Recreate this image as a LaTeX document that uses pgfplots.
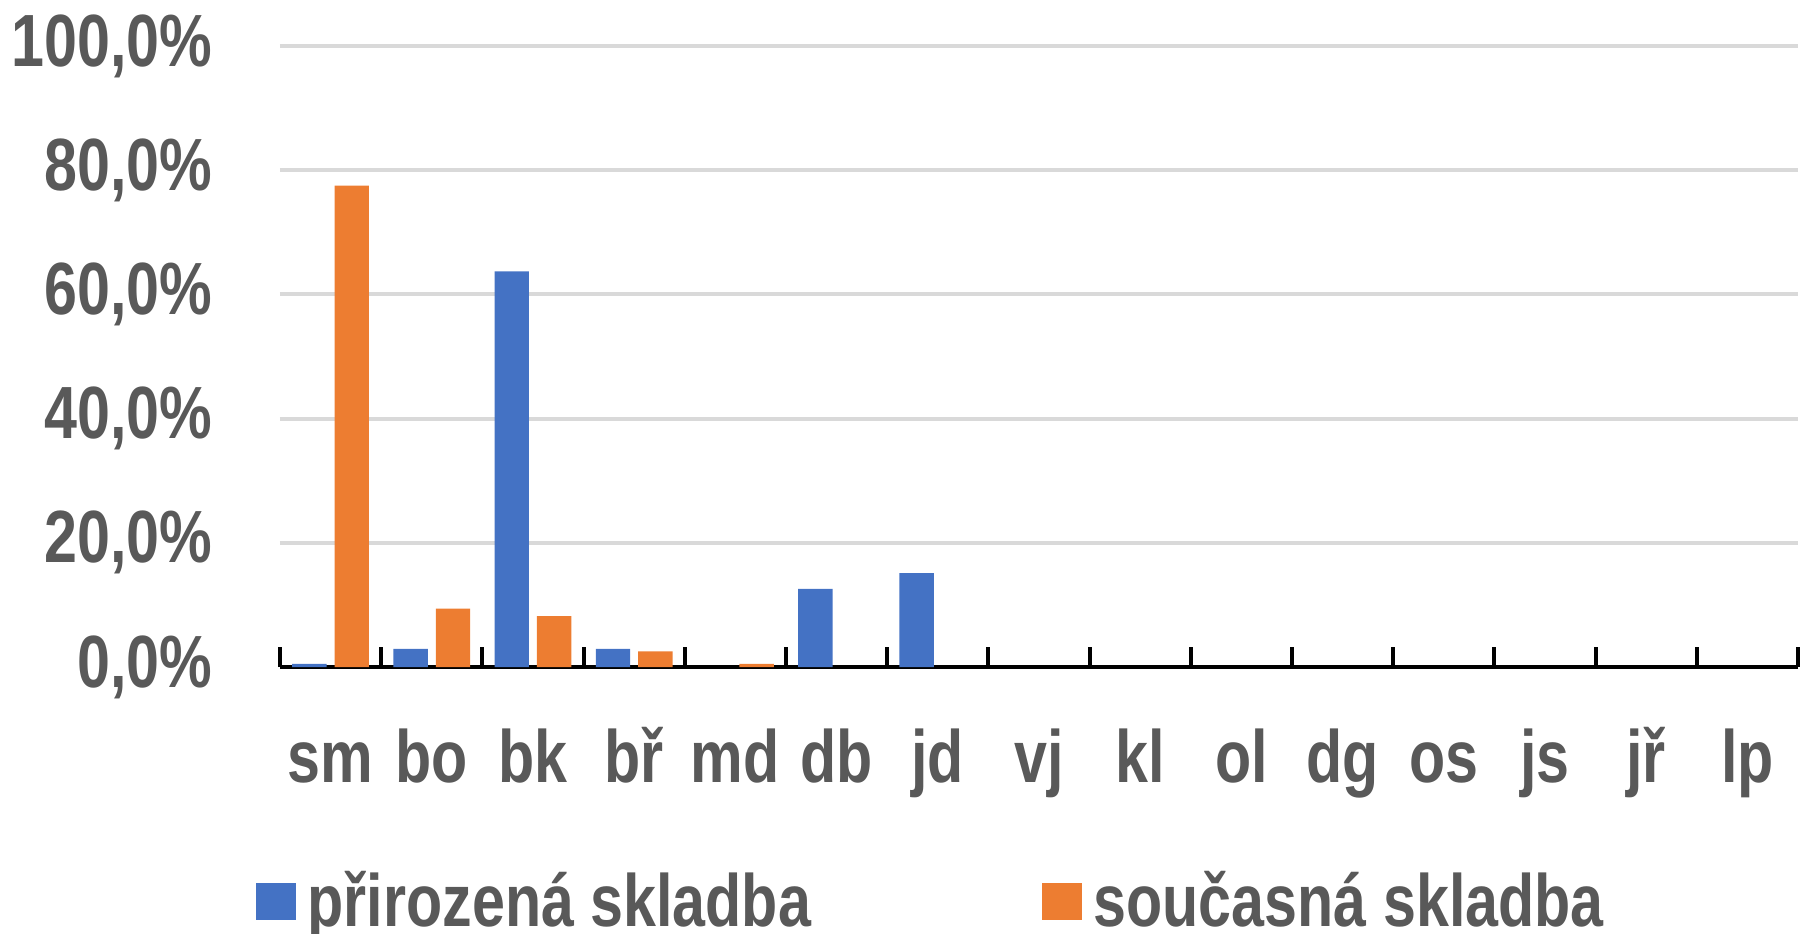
\documentclass[border=0pt]{standalone}
\usepackage{fontspec}
\setmainfont{Liberation Sans}[FakeStretch=0.8]
\usepackage{pgfplots}
\pgfplotsset{compat=1.18}
\definecolor{cblue}{HTML}{4472C4}
\definecolor{corange}{HTML}{ED7D31}
\definecolor{cgrid}{HTML}{D9D9D9}
\definecolor{ctext}{HTML}{595959}
\newcommand{\cf}{\bfseries\fontsize{18.5}{22}\selectfont}
\begin{document}
\begin{tikzpicture}
\begin{axis}[
  at={(0,0)}, anchor=south west,
  scale only axis, width=379.5pt, height=155.25pt,
  xmin=-0.5, xmax=14.5, ymin=0, ymax=100,
  ybar=2pt, bar width=8.6pt,
  axis lines*=left,
  y axis line style={draw=none},
  x axis line style={black, line width=1pt},
  ytick={0,20,40,60,80,100},
  yticklabels={{0,0\%},{20,0\%},{40,0\%},{60,0\%},{80,0\%},{100,0\%}},
  ytick style={draw=none},
  ymajorgrids, grid style={cgrid, line width=1pt},
  xtick={0,...,14},
  xticklabels={sm,bo,bk,bř,md,db,jd,vj,kl,ol,dg,os,js,jř,lp},
  major x tick style={draw=none},
  minor xtick={-0.5,0.5,...,14.5},
  minor x tick style={black, line width=1pt},
  minor tick length=5pt,
  xtick align=inside,
  tick label style={font=\cf, text=ctext, inner sep=0pt},
  yticklabel style={anchor=east, xshift=-16.75pt},
  xticklabel style={anchor=base, yshift=-28.75pt},
  legend columns=2,
  legend image code/.code={\fill (0pt,-4.6pt) rectangle (10pt,4.6pt);},
  legend style={draw=none, fill=none, inner sep=0pt, font=\cf, text=ctext,
    at={(axis description cs:-0.0165,-0.378)}, anchor=west,
    nodes={inner sep=0pt}},
]
\addplot[draw=none, fill=cblue] coordinates {(0,0.5) (1,2.9) (2,63.7) (3,2.9) (5,12.6) (6,15.1)};
\addplot[draw=none, fill=corange] coordinates {(0,77.5) (1,9.4) (2,8.2) (3,2.5) (4,0.5)};
\addlegendentry{\makebox[186.5pt][l]{\hspace{3pt}přirozená skladba}}
\addlegendentry{\hspace{3pt}současná skladba}
\end{axis}
\pgfresetboundingbox
\path[use as bounding box] (-70pt,-66.75pt) rectangle (381pt,166.75pt);
\end{tikzpicture}
\end{document}
